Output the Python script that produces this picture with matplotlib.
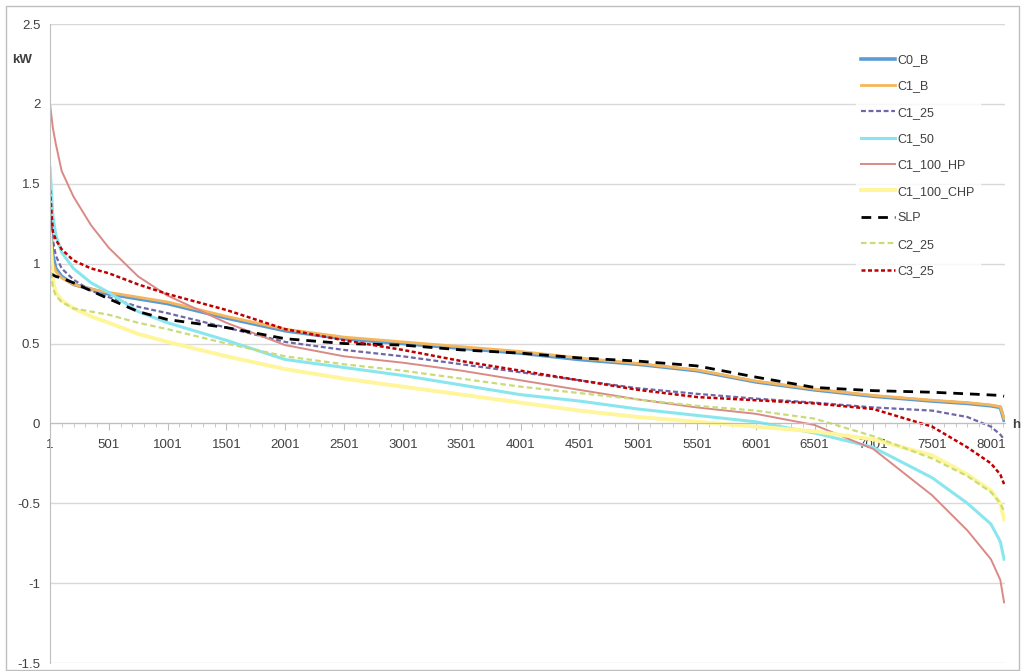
import matplotlib
matplotlib.use("Agg")
import matplotlib.pyplot as plt
from matplotlib.patches import Rectangle
from matplotlib.ticker import FixedLocator

plt.rcParams['font.family'] = ['Liberation Sans', 'DejaVu Sans']

# hours of the year (sorted load duration), sample positions along the curve
hours = [1, 25, 50, 100, 200, 350, 500, 750, 1000, 1500, 2000, 2500, 3000, 3500,
         4000, 4500, 5000, 5500, 6000, 6500, 7000, 7500, 7800, 8000, 8080, 8112]

c0_b = [1.25, 1.05, 0.97, 0.92, 0.87, 0.84, 0.81, 0.78, 0.75, 0.66, 0.58, 0.53, 0.50, 0.47,
        0.44, 0.40, 0.37, 0.33, 0.26, 0.21, 0.17, 0.14, 0.125, 0.11, 0.10, 0.02]
c1_b = [1.15, 1.00, 0.95, 0.91, 0.87, 0.84, 0.82, 0.79, 0.76, 0.67, 0.59, 0.54, 0.51, 0.48,
        0.45, 0.41, 0.375, 0.335, 0.265, 0.215, 0.175, 0.145, 0.13, 0.115, 0.105, 0.03]
c1_25 = [1.42, 1.15, 1.05, 0.97, 0.90, 0.83, 0.79, 0.73, 0.69, 0.60, 0.51, 0.46, 0.42, 0.37,
         0.32, 0.27, 0.22, 0.185, 0.155, 0.13, 0.10, 0.08, 0.04, -0.02, -0.07, -0.10]
c1_50 = [1.60, 1.30, 1.18, 1.07, 0.97, 0.88, 0.82, 0.70, 0.63, 0.52, 0.40, 0.35, 0.30, 0.24,
         0.18, 0.14, 0.09, 0.05, 0.01, -0.06, -0.15, -0.34, -0.50, -0.63, -0.74, -0.85]
c1_100_hp = [2.00, 1.85, 1.75, 1.58, 1.42, 1.24, 1.10, 0.92, 0.80, 0.63, 0.49, 0.42, 0.38, 0.33,
             0.27, 0.21, 0.15, 0.10, 0.06, -0.01, -0.16, -0.45, -0.67, -0.85, -0.98, -1.12]
c1_100_chp = [1.20, 0.90, 0.82, 0.77, 0.72, 0.67, 0.63, 0.56, 0.51, 0.42, 0.34, 0.28, 0.23, 0.18,
              0.13, 0.08, 0.04, 0.01, -0.02, -0.05, -0.10, -0.20, -0.32, -0.42, -0.50, -0.60]
slp = [0.93, 0.93, 0.92, 0.91, 0.88, 0.83, 0.78, 0.70, 0.65, 0.60, 0.53, 0.50, 0.49, 0.46,
       0.44, 0.41, 0.39, 0.36, 0.29, 0.225, 0.205, 0.195, 0.185, 0.178, 0.175, 0.17]
c2_25 = [1.00, 0.85, 0.80, 0.76, 0.72, 0.70, 0.68, 0.63, 0.59, 0.50, 0.42, 0.37, 0.33, 0.28,
         0.23, 0.19, 0.15, 0.11, 0.08, 0.03, -0.08, -0.22, -0.33, -0.43, -0.50, -0.55]
c3_25 = [1.46, 1.20, 1.15, 1.09, 1.02, 0.97, 0.94, 0.87, 0.81, 0.71, 0.59, 0.52, 0.46, 0.39,
         0.33, 0.27, 0.21, 0.165, 0.145, 0.125, 0.09, -0.02, -0.15, -0.25, -0.32, -0.38]

x_ticks = list(range(1, 8002, 500))
y_ticks = [-1.5, -1, -0.5, 0, 0.5, 1, 1.5, 2, 2.5]
y_labels = ["-1.5", "-1", "-0.5", "0", "0.5", "1", "1.5", "2", "2.5"]

series = [
    ("C0_B", c0_b, dict(color="#5b9bd5", lw=2.6)),
    ("C1_B", c1_b, dict(color="#f5b55a", lw=2.0)),
    ("C1_25", c1_25, dict(color="#6e68a8", lw=1.6, dashes=(2.2, 1.2))),
    ("C1_50", c1_50, dict(color="#8ae6ee", lw=2.2)),
    ("C1_100_HP", c1_100_hp, dict(color="#d98a86", lw=1.4)),
    ("C1_100_CHP", c1_100_chp, dict(color="#fff59a", lw=2.8)),
    ("SLP", slp, dict(color="black", lw=2.0, dashes=(3.5, 2.5))),
    ("C2_25", c2_25, dict(color="#c9dc78", lw=1.6, dashes=(2.5, 1.5))),
    ("C3_25", c3_25, dict(color="#c00000", lw=1.8, dashes=(1.6, 1.0))),
]

fig = plt.figure(figsize=(10.25, 6.71), dpi=100)
ax = fig.add_axes([0.0488, 0.0119, 0.9317, 0.9523])

for name, vals, style in series:
    ax.plot(hours, vals, label=name, **style)

ax.set_xlim(1, 8120)
ax.set_ylim(-1.5, 2.5)

ax.yaxis.set_major_locator(FixedLocator(y_ticks))
ax.set_yticklabels(y_labels)
ax.grid(axis="y", color="#d9d9d9", lw=1.0)
ax.set_axisbelow(True)

ax.xaxis.set_major_locator(FixedLocator(x_ticks))
ax.xaxis.set_minor_locator(FixedLocator(list(range(1, 8112, 100))))
ax.set_xticklabels([str(t) for t in x_ticks])

for s in ["top", "right"]:
    ax.spines[s].set_visible(False)
ax.spines["left"].set_color("#bfbfbf")
ax.spines["bottom"].set_position(("data", 0))
ax.spines["bottom"].set_color("#bfbfbf")

ax.tick_params(axis="y", length=0, pad=7, labelsize=9.5, labelcolor="#404040")
ax.tick_params(axis="x", which="major", length=5, color="#bfbfbf", pad=6,
               labelsize=9.5, labelcolor="#404040")
ax.tick_params(axis="x", which="minor", length=3, color="#bfbfbf")

fig.text(22 / 1025, 1 - 60 / 671, "kW", fontsize=9.5, color="#404040",
         fontweight="bold", ha="center", va="center")
fig.text(1016 / 1025, 1 - 425 / 671, "h", fontsize=9.5, color="#404040",
         fontweight="bold", ha="center", va="center")

leg = ax.legend(loc="upper left", bbox_to_anchor=(0.835, 0.927),
                bbox_transform=fig.transFigure, frameon=True, fontsize=9,
                handlelength=2.7, handletextpad=0.2, labelspacing=1.15,
                borderpad=0.4, borderaxespad=0)
leg.get_frame().set_facecolor("white")
leg.get_frame().set_edgecolor("white")
for t in leg.get_texts():
    t.set_color("#404040")

# chart area border
fig.patches.append(Rectangle((6 / 1025, 1 / 671), 1013 / 1025, 664 / 671,
                             transform=fig.transFigure, fill=False,
                             edgecolor="#bfbfbf", lw=1.0))

fig.savefig("out.png", dpi=100)
